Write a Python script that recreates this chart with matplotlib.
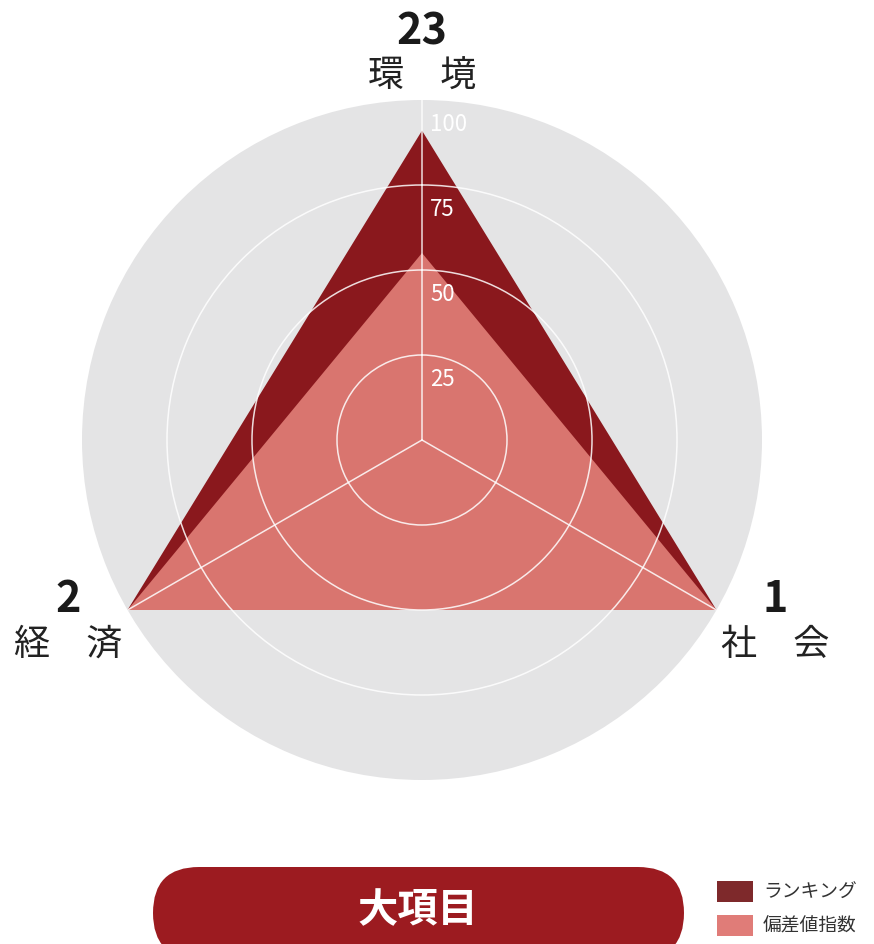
import numpy as np
import matplotlib
matplotlib.use("Agg")
import matplotlib.pyplot as plt
from matplotlib.patches import FancyBboxPatch, Rectangle
from matplotlib.transforms import offset_copy

plt.rcParams["font.family"] = ["Noto Sans CJK JP", "DejaVu Sans"]

# data
categories = ["環\u3000境", "社\u3000会", "経\u3000済"]
ranks = [23, 1, 2]
rank_score = [91, 100, 100]
deviation_score = [55, 100, 100]
r_ticks = [25, 50, 75, 100]
legend_labels = ["ランキング", "偏差値指数"]
title = "大項目"

c_rank = "#8a181d"
c_dev = "#d9756f"
c_disc = "#e4e4e5"
c_pill = "#9c1b20"

W, H = 874, 945
fig = plt.figure(figsize=(W / 100, H / 100), dpi=100)

cx, cy, rad = 422, 441, 340
ax = fig.add_axes([(cx - rad) / W, (H - cy - rad) / H, 2 * rad / W, 2 * rad / H],
                  projection="polar")
ax.set_theta_zero_location("N")
ax.set_theta_direction(-1)
ax.set_facecolor(c_disc)
ax.spines["polar"].set_visible(False)

theta = np.linspace(0, 2 * np.pi, len(categories), endpoint=False)
th_closed = np.append(theta, theta[0])

ax.fill(th_closed, rank_score + rank_score[:1], color=c_rank, lw=0, zorder=1)
ax.fill(th_closed, deviation_score + deviation_score[:1], color=c_dev, lw=0, zorder=1.2)

ax.set_ylim(0, 100)
ax.set_rgrids(r_ticks[:-1], labels=[])
ax.set_thetagrids(np.degrees(theta), labels=[])
ax.set_axisbelow(False)
ax.grid(True, color="white", lw=1.1, alpha=0.85)

# radial tick labels
lab_tr = offset_copy(ax.transData, fig=fig, x=8, y=0, units="dots")
for v in r_ticks:
    ax.text(0, v - 7, str(v), transform=lab_tr, color="white", fontsize=16,
            ha="left", va="center", zorder=6)

# category labels with rank numbers
label_r = [107, 120, 120]
for t, name, rk, lr in zip(theta, categories, ranks, label_r):
    ax.text(t, lr, name, fontsize=26, ha="center", va="center", color="#222222",
            clip_on=False)
    num_tr = offset_copy(ax.transData, fig=fig, x=0, y=46, units="dots")
    ax.text(t, lr, str(rk), transform=num_tr, fontsize=31, fontweight="bold",
            ha="center", va="center", color="#1a1a1a", clip_on=False)

# overlay for title pill and legend
ov = fig.add_axes([0, 0, 1, 1])
ov.set_xlim(0, W)
ov.set_ylim(H, 0)
ov.axis("off")
ov.patch.set_alpha(0)

ov.add_patch(FancyBboxPatch((153, 868), 531, 92,
                            boxstyle="round,pad=0,rounding_size=46",
                            fc=c_pill, ec="none", mutation_aspect=1))
ov.text(418, 911, title, color="white", fontsize=29, fontweight="bold",
        ha="center", va="center")

for i, (lab, col) in enumerate(zip(legend_labels, ["#7e292b", "#e07c78"])):
    y0 = 882 + i * 34
    ov.add_patch(Rectangle((717, y0), 36, 21, fc=col, ec="none"))
    ov.text(763, y0 + 10.5, lab, fontsize=13.5, ha="left", va="center",
            color="#333333")

fig.savefig("out.png", dpi=100, facecolor="white")
